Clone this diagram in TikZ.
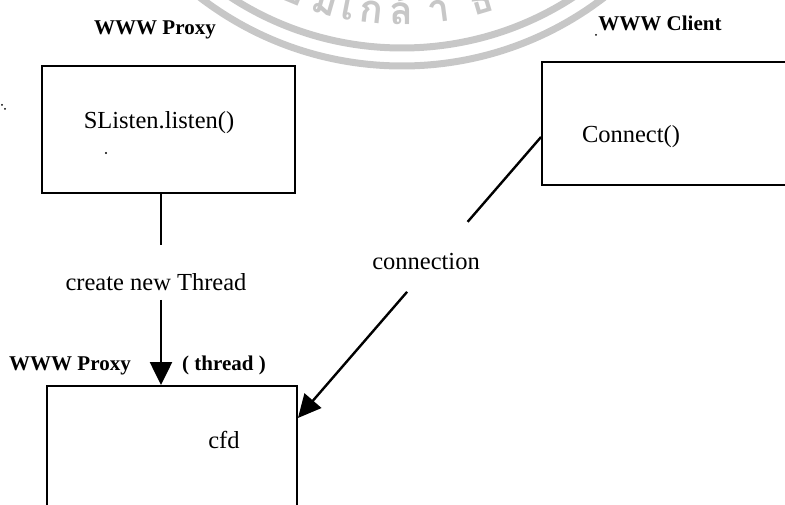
\documentclass[tikz,border=0pt]{standalone}
\usepackage{fontspec}
\setmainfont{Liberation Serif}
\newfontfamily\thaifont[Script=Thai]{Loma}
\usetikzlibrary{arrows.meta,calc}

\begin{document}
\begin{tikzpicture}[x=1pt,y=1pt,
  box/.style={draw, line width=1.9pt, rectangle, inner sep=0pt},
  txt/.style={font=\fontsize{24.5}{28}\selectfont, inner sep=0pt},
  hdr/.style={font=\fontsize{21}{24}\selectfont\bfseries, inner sep=0pt},
  link/.style={line width=2.4pt},
  tip/.style={-{Triangle[length=23pt,width=22pt]}},
  seal/.style={draw=black!22, line width=7pt},
  sealtxt/.style={text=black!22, font=\thaifont\bfseries\fontsize{39}{44}\selectfont, anchor=base, inner sep=0pt},
  speck/.style={fill=black, draw=none}]
\useasboundingbox (0,0) rectangle (785,505);
\clip (0,0) rectangle (785,505);

% faint seal in the background
\coordinate (sc) at (402,771);
\draw[seal] (sc) circle (332);
\draw[seal] (sc) circle (314);
\foreach \a/\g [count=\i] in {-30/จ,-22.5/อ,-16/ม,-11.1/เ,-6.3/ก,-0.2/ล้,7.5/า,16.6/ธ}
  \node[sealtxt, rotate=\a] (sl\i) at ($(sc)+(\a-90:291)$) {\g};

% boxes
\node[box, minimum width=253, minimum height=127] (listen) at (168.5,375.5) {};
\node[box, minimum width=253, minimum height=123] (client) at (668.5,381.5) {};
\node[box, minimum width=250, minimum height=134] (thread) at (172,52) {};

% headings and texts
\node[hdr] (hproxy) at (155,475) {WWW Proxy};
\node[hdr] (hclient) at (660,482) {WWW Client};
\node[hdr] (hproxy2) at (70,139) {WWW Proxy};
\node[hdr] (hthread) at (224,140) {( thread )};
\node[txt] (tlisten) at (159,382) {SListen.listen()};
\node[txt] (tconnect) at (631,368) {Connect()};
\node[txt] (tcfd) at (224,65) {cfd};
\node[txt] (tcreate) at (156,223) {create new Thread};
\node[txt] (tconn) at (426,243) {connection};

% listen -> new thread
\coordinate (a1) at (161,260);
\coordinate (a2) at (161,205);
\draw[link] (listen.south -| a1) -- (a1);
\draw[link,tip] (a2) -- (a2 |- thread.north);

% client connection -> thread
\coordinate (p) at ($(client.west)+(0,-13.5)$);
\coordinate (q) at ($(thread.east)+(0,35)$);
\draw[link] (p) -- ($(p)!0.302!(q)$);
\draw[link,tip] ($(p)!0.551!(q)$) -- (q);

% small specks
\fill[speck] (106,352) circle (1.2);
\fill[speck] (596,470) circle (1);
\fill[speck] (2,400) circle (1);
\fill[speck] (5,396) circle (1);
\end{tikzpicture}
\end{document}
